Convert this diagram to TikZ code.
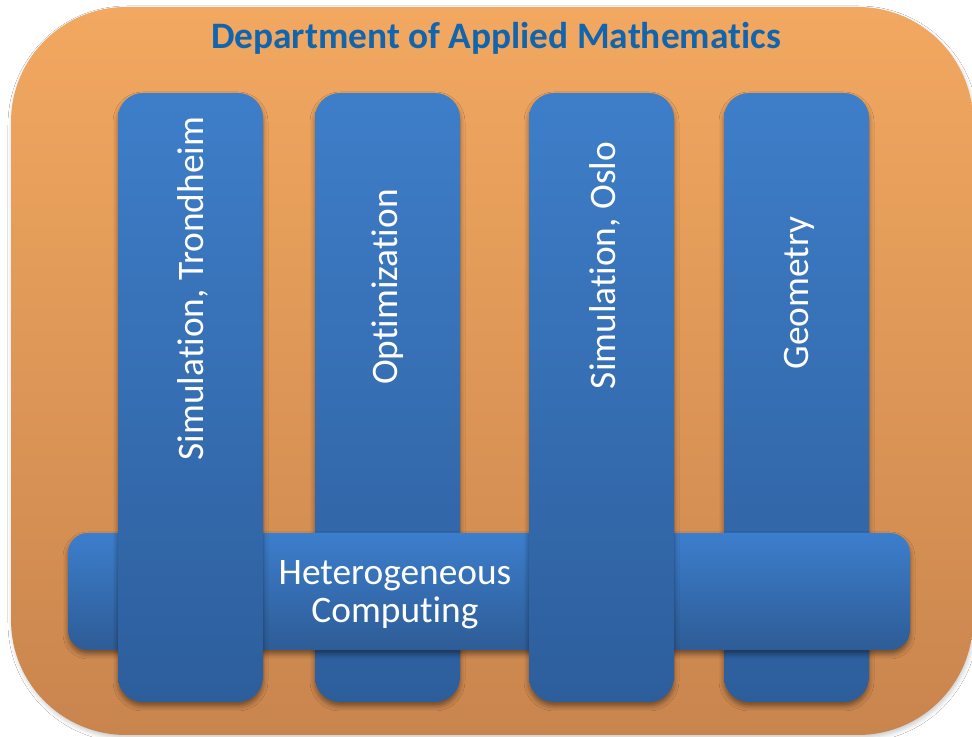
\documentclass[tikz,border=0pt]{standalone}
\usepackage{fontspec}
\setmainfont{Carlito}[Ligatures={NoCommon,NoContextual}]
\usepackage{xcolor}
\definecolor{dept}{RGB}{17,101,174}
\definecolor{orangetop}{RGB}{242,168,96}
\definecolor{orangemid}{RGB}{237,146,66}
\definecolor{orangebot}{RGB}{201,133,78}
\definecolor{bluetop}{RGB}{62,126,201}
\definecolor{bluebot}{RGB}{45,94,156}
\definecolor{hbluetop}{RGB}{60,126,204}
\definecolor{hbluebot}{RGB}{46,92,150}
\usetikzlibrary{shadows.blur}
\tikzset{
  bar/.style={rounded corners=25bp, top color=bluetop, bottom color=bluebot,
    blur shadow={shadow xshift=0bp, shadow yshift=-4bp, shadow blur radius=5bp, shadow opacity=45}},
  hbar/.style={rounded corners=20bp, top color=hbluetop, bottom color=hbluebot,
    blur shadow={shadow xshift=0bp, shadow yshift=-4bp, shadow blur radius=5bp, shadow opacity=45}},
  bartext/.style={white, rotate=90, anchor=base, font=\fontsize{37.5}{39}\selectfont}
}

\begin{document}
\begin{tikzpicture}[x=1bp, y=1bp]
\useasboundingbox (0,0) rectangle (972,737);
\fill[white] (0,0) rectangle (972,737);
% department
\path[rounded corners=115bp, top color=orangetop, middle color=orangemid, bottom color=orangebot,
  blur shadow={shadow xshift=1bp, shadow yshift=-3bp, shadow blur radius=4bp, shadow opacity=20}]
  (11,2) rectangle (973,730);
\node[dept, anchor=base, font=\fontsize{37.5}{39}\selectfont\bfseries] (title) at (496,688)
  {Department of Applied Mathematics};
% groups behind the computing bar
\foreach \x in {315, 724}{
\path[bar] (\x,35) rectangle ++(145,609);
}
\path[hbar] (68,87) rectangle (910,204);
% groups in front of it
\foreach \x in {118, 529}{
\path[bar] (\x,35) rectangle ++(145,609);
}
\node[white, anchor=base, align=center, font=\fontsize{37.5}{39}\selectfont] (hetero) at (395,114)
  {Heterogeneous\\Computing};
\foreach \x/\y/\group/\name in {203/448.5/{Simulation, Trondheim}/simtrd, 397/450/Optimization/optim,
  615/471.5/{Simulation, Oslo}/simosl, 808/444/Geometry/geom}{
\node[bartext] (\name) at (\x,\y) {\group};
}
\end{tikzpicture}
\end{document}
